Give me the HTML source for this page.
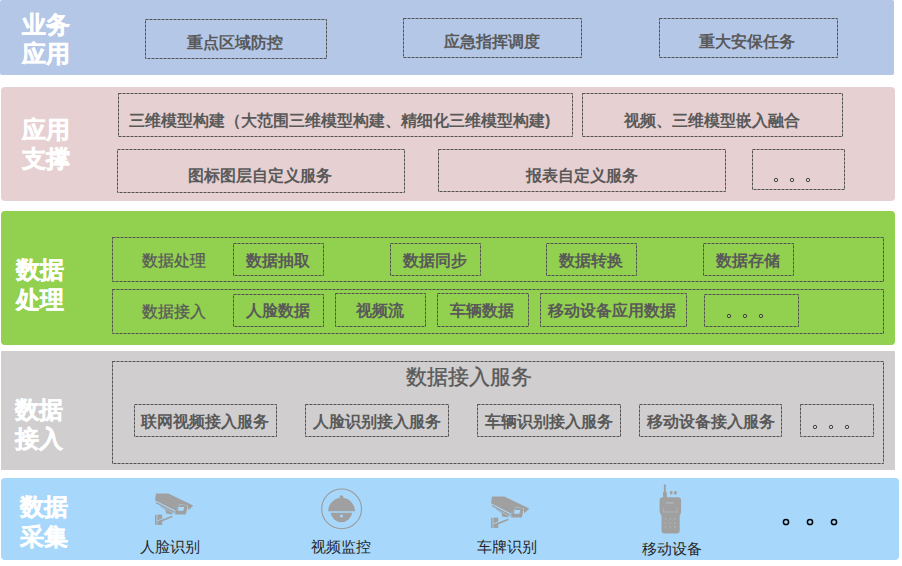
<!DOCTYPE html>
<html><head><meta charset="utf-8">
<style>
html,body{margin:0;padding:0;}
body{width:902px;height:566px;position:relative;background:#fff;overflow:hidden;font-family:"Liberation Sans",sans-serif;}
.b{position:absolute;}
.t{position:absolute;white-space:nowrap;line-height:1;text-align:center;}
.bx{font-size:16px;font-weight:bold;color:#595959;}
.lb{font-size:24px;font-weight:bold;color:#fff;-webkit-text-stroke:0.4px #fff;line-height:29px;text-align:left;}
.sm{font-size:16px;font-weight:normal;color:#595959;text-align:left;-webkit-text-stroke:0.3px #595959;}
.cap{font-size:15px;color:#262626;text-align:left;}
svg{position:absolute;left:0;top:0;}
</style></head><body>
<div class="b" style="left:0;top:0;width:894px;height:75px;background:#B4C7E7;border-radius:2px"></div>
<div class="b" style="left:1px;top:87px;width:894px;height:114px;background:#E6D0D1;border-radius:4px"></div>
<div class="b" style="left:1px;top:211px;width:894px;height:134px;background:#92D050;border-radius:4px"></div>
<div class="b" style="left:1px;top:351px;width:894px;height:119px;background:#D0CECE;"></div>
<div class="b" style="left:1px;top:478px;width:898px;height:82px;background:#A7D8FC;border-radius:4px"></div>

<svg width="902" height="566">
<g fill="none" stroke="#525252" stroke-width="1" stroke-dasharray="3 1">
<rect x="145.5" y="19.5" width="181" height="39"/>
<rect x="403.5" y="18.5" width="178" height="39"/>
<rect x="659.5" y="18.5" width="178" height="39"/>

<rect x="118.5" y="93.5" width="454" height="43"/>
<rect x="582.5" y="93.5" width="260" height="43"/>
<rect x="117.5" y="149.5" width="287" height="43"/>
<rect x="438.5" y="149.5" width="287" height="42"/>
<rect x="752.5" y="149.5" width="92" height="40"/>

<rect x="112.5" y="237.5" width="771" height="44"/>
<rect x="112.5" y="289.5" width="771" height="44"/>
<rect x="233.5" y="243.5" width="90" height="32"/>
<rect x="390.5" y="243.5" width="90" height="32"/>
<rect x="546.5" y="243.5" width="90" height="32"/>
<rect x="703.5" y="243.5" width="90" height="32"/>
<rect x="233.5" y="294.5" width="90" height="32"/>
<rect x="335.5" y="293.5" width="90" height="33"/>
<rect x="437.5" y="293.5" width="91" height="33"/>
<rect x="540.5" y="293.5" width="146" height="33"/>
<rect x="704.5" y="294.5" width="94" height="32"/>

<rect x="112.5" y="361.5" width="771" height="102"/>
<rect x="134.5" y="404.5" width="142" height="32"/>
<rect x="305.5" y="404.5" width="143" height="32"/>
<rect x="477.5" y="404.5" width="143" height="32"/>
<rect x="639.5" y="404.5" width="142" height="32"/>
<rect x="800.5" y="404.5" width="73" height="32"/>
</g>
</svg>

<!-- labels -->
<div class="t lb" style="left:22px;top:10px">业务<br>应用</div>
<div class="t lb" style="left:22px;top:115px">应用<br>支撑</div>
<div class="t lb" style="left:16px;top:255px;line-height:30px">数据<br>处理</div>
<div class="t lb" style="left:15px;top:395px">数据<br>接入</div>
<div class="t lb" style="left:20px;top:492px;line-height:30px">数据<br>采集</div>

<!-- band 1 -->
<div class="t bx" style="left:187px;top:35px">重点区域防控</div>
<div class="t bx" style="left:444px;top:34px">应急指挥调度</div>
<div class="t bx" style="left:699px;top:34px">重大安保任务</div>

<!-- band 2 -->
<div class="t bx" style="left:129px;top:113px">三维模型构建（大范围三维模型构建、精细化三维模型构建)</div>
<div class="t bx" style="left:624px;top:113px">视频、三维模型嵌入融合</div>
<div class="t bx" style="left:188px;top:168px">图标图层自定义服务</div>
<div class="t bx" style="left:526px;top:168px">报表自定义服务</div>

<!-- band 3 -->
<div class="t sm" style="left:142px;top:253px">数据处理</div>
<div class="t sm" style="left:142px;top:304px">数据接入</div>
<div class="t bx" style="left:246px;top:253px">数据抽取</div>
<div class="t bx" style="left:403px;top:253px">数据同步</div>
<div class="t bx" style="left:559px;top:253px">数据转换</div>
<div class="t bx" style="left:716px;top:253px">数据存储</div>
<div class="t bx" style="left:246px;top:303px">人脸数据</div>
<div class="t bx" style="left:356px;top:303px">视频流</div>
<div class="t bx" style="left:450px;top:303px">车辆数据</div>
<div class="t bx" style="left:548px;top:303px">移动设备应用数据</div>

<!-- band 4 -->
<div class="t" style="left:406px;top:366px;font-size:21px;font-weight:normal;color:#595959;-webkit-text-stroke:0.35px #595959">数据接入服务</div>
<div class="t bx" style="left:141px;top:414px">联网视频接入服务</div>
<div class="t bx" style="left:313px;top:414px">人脸识别接入服务</div>
<div class="t bx" style="left:485px;top:414px">车辆识别接入服务</div>
<div class="t bx" style="left:647px;top:414px">移动设备接入服务</div>

<!-- band 5 captions -->
<div class="t cap" style="left:140px;top:539px">人脸识别</div>
<div class="t cap" style="left:311px;top:539px">视频监控</div>
<div class="t cap" style="left:477px;top:539px">车牌识别</div>
<div class="t cap" style="left:642px;top:541px">移动设备</div>

<svg width="902" height="566">
<g fill="none" stroke="#000" stroke-width="1.5">
<circle cx="786" cy="522" r="2.6"/>
<circle cx="810" cy="522" r="2.6"/>
<circle cx="834" cy="522" r="2.6"/>
</g>
</svg>

<svg width="902" height="566">

<g transform="translate(152 490)">
<polygon fill="#A0A0A0" points="4,3.6 16.4,3.6 41.2,15.4 36.4,20.4 35.8,15.2 27.6,14.2 23.6,20.8 3,10.2"/>
<polygon fill="#A0A0A0" points="23.2,21 27.8,14.8 35.8,15.6 33.8,24.4 23.2,24.4"/>
<polygon fill="#A8D8FC" points="26.6,17 32.2,17 31.4,20.8 25.8,20.8"/>
<polygon fill="#A0A0A0" points="3.8,11.8 22.6,21.6 22.2,23 3.8,13.2"/>
<polygon fill="#A0A0A0" opacity="0.55" points="8.5,15.5 22.4,23.2 22.4,24 13.5,20.2 8.5,17"/>
<polygon fill="#A0A0A0" points="13.4,19.6 20.2,23 20.2,24.4 14.2,23.6"/>
<rect fill="#A0A0A0" x="3" y="24.8" width="1.6" height="10.2"/>
<rect fill="#A0A0A0" x="5.4" y="24.6" width="4.8" height="10.4"/>
<polygon fill="#A8D8FC" points="5.2,30.6 20.4,24.6 20.4,25.4 5.2,31.4"/>
<polygon fill="#A0A0A0" points="5.2,31.6 20.4,25.4 20.4,27.2 5.2,33.4"/>
</g>
<g transform="translate(488 493)">
<polygon fill="#A0A0A0" points="4,3.6 16.4,3.6 41.2,15.4 36.4,20.4 35.8,15.2 27.6,14.2 23.6,20.8 3,10.2"/>
<polygon fill="#A0A0A0" points="23.2,21 27.8,14.8 35.8,15.6 33.8,24.4 23.2,24.4"/>
<polygon fill="#A8D8FC" points="26.6,17 32.2,17 31.4,20.8 25.8,20.8"/>
<polygon fill="#A0A0A0" points="3.8,11.8 22.6,21.6 22.2,23 3.8,13.2"/>
<polygon fill="#A0A0A0" opacity="0.55" points="8.5,15.5 22.4,23.2 22.4,24 13.5,20.2 8.5,17"/>
<polygon fill="#A0A0A0" points="13.4,19.6 20.2,23 20.2,24.4 14.2,23.6"/>
<rect fill="#A0A0A0" x="3" y="24.8" width="1.6" height="10.2"/>
<rect fill="#A0A0A0" x="5.4" y="24.6" width="4.8" height="10.4"/>
<polygon fill="#A8D8FC" points="5.2,30.6 20.4,24.6 20.4,25.4 5.2,31.4"/>
<polygon fill="#A0A0A0" points="5.2,31.6 20.4,25.4 20.4,27.2 5.2,33.4"/>
</g>
<!-- dome -->
<circle cx="341.6" cy="508.9" r="19.9" fill="none" stroke="#9A9A9A" stroke-width="1.1"/>
<path fill="#A0A0A0" d="M328.2,511.2 A13.4,13.4 0 0 1 355,511.2 Z"/>
<rect fill="#A0A0A0" x="339.6" y="495.6" width="3.8" height="2.6" rx="1.2"/>
<path fill="#A0A0A0" d="M330.6,512.8 L352.2,512.8 A10.9,10.9 0 0 1 330.6,512.8 Z"/>
<rect fill="#A8D8FC" x="340.2" y="514.8" width="2.6" height="2.5"/>
<!-- radio -->
<rect fill="#A0A0A0" x="663.9" y="484.4" width="1.9" height="9"/>
<rect fill="#A0A0A0" x="663" y="492" width="3.8" height="6"/>
<rect fill="#A0A0A0" x="670.1" y="491.1" width="2.4" height="3.3" rx="0.6"/>
<rect fill="#A0A0A0" x="674.1" y="491.1" width="2.6" height="3.3" rx="0.6"/>
<path fill="#A0A0A0" d="M662.6,497.3 L678.1,497.3 Q681.1,497.3 681.1,500.3 L681.1,512 L679.7,516 L679.7,530.6 Q679.7,533.6 676.7,533.6 L664.5,533.6 Q661.5,533.6 661.5,530.6 L661.5,516 L659.6,512 L659.6,500.3 Q659.6,497.3 662.6,497.3 Z"/>
<g fill="#B9CBD8" opacity="0.45">
<rect x="665.8" y="502" width="7.7" height="1.8" rx="0.9"/>
<path d="M663,507.8 L663.8,507.8 L663.8,511.6 L676.5,511.6 L676.5,507.8 L677.3,507.8 L677.3,512.6 L663,512.6 Z"/>
<circle cx="665.4" cy="518.8" r="0.9"/><circle cx="670.1" cy="518.8" r="0.9"/><circle cx="674.9" cy="518.8" r="0.9"/>
<circle cx="665.4" cy="523.1" r="0.9"/><circle cx="670.1" cy="523.1" r="0.9"/><circle cx="674.9" cy="523.1" r="0.9"/>
<circle cx="665.4" cy="526.9" r="0.9"/><circle cx="670.1" cy="526.9" r="0.9"/><circle cx="674.9" cy="526.9" r="0.9"/>
</g>
<g fill="none" stroke="#454545" stroke-width="1">
<circle cx="776" cy="180" r="1.7"/><circle cx="792" cy="180" r="1.7"/><circle cx="808" cy="180" r="1.7"/>
<circle cx="729" cy="316" r="1.7"/><circle cx="745" cy="316" r="1.7"/><circle cx="761" cy="316" r="1.7"/>
<circle cx="815" cy="427" r="1.7"/><circle cx="831" cy="427" r="1.7"/><circle cx="847" cy="427" r="1.7"/>
</g>
</svg>
</body></html>
